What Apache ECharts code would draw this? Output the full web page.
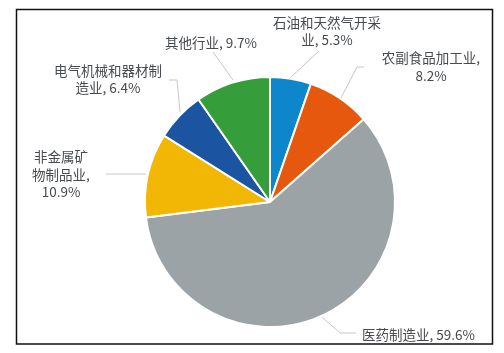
<!DOCTYPE html>
<html>
<head>
<meta charset="utf-8">
<script src="https://cdn.jsdelivr.net/npm/echarts@6/dist/echarts.min.js"></script>
<style>
  html, body { margin: 0; padding: 0; background: #fff; }
  #chart { width: 504px; height: 353px; }
</style>
</head>
<body>
<div id="chart"></div>
<script>
// 行业分类及占比（%）
const categories = ['石油和天然气开采业', '农副食品加工业', '医药制造业', '非金属矿物制品业', '电气机械和器材制造业', '其他行业']
const values = [5.3, 8.2, 59.6, 10.9, 6.4, 9.7]
// 标签换行位置（在第几个字符后换行）
const labelBreaks = [[8], [8], [], [4, 9], [8], []]
const colors = ['#0d86cb', '#e5580e', '#9ba3a7', '#f2b705', '#1b54a1', '#359e3b']

// 标签摆放位置
const labelPos = [
  { x: 327, y: 31.5, align: 'center', pts: [[290, 78], [319, 51], [319, 51]] },
  { x: 431, y: 67, align: 'center', pts: [[341, 98], [357, 67], [364, 67]] },
  { x: 362, y: 335, align: 'left', pts: [[322, 317], [340, 333], [356, 333]] },
  { x: 61, y: 174.5, align: 'center', pts: [[146, 174], [125, 174], [106, 174]] },
  { x: 108, y: 79.5, align: 'center', pts: [[180, 112], [177, 80], [169, 80]] },
  { x: 211, y: 43, align: 'center', pts: [[233, 80], [213, 52], [213, 52]] }
]

function wrapLabel (i) {
  const text = categories[i] + ', ' + values[i] + '%'
  const parts = []
  let last = 0
  labelBreaks[i].forEach(b => {
    parts.push(text.slice(last, b).trim())
    last = b
  })
  parts.push(text.slice(last).trim())
  return parts.join('\n')
}

const chart = echarts.init(document.getElementById('chart'))
const option = {
  color: colors,
  textStyle: { fontFamily: 'Noto Sans CJK SC' },
  graphic: [{
    type: 'rect',
    shape: { x: 16.5, y: 9.5, width: 476, height: 334.5 },
    style: { fill: 'none', stroke: '#111', lineWidth: 1.5 }
  }],
  series: [{
    type: 'pie',
    center: [270, 202],
    radius: 125,
    startAngle: 90,
    clockwise: true,
    data: categories.map((name, i) => ({ name: name, value: values[i] })),
    itemStyle: { borderColor: '#fff', borderWidth: 2 },
    label: {
      show: true,
      position: 'outside',
      formatter: (p) => wrapLabel(p.dataIndex),
      fontSize: 13.5,
      lineHeight: 17.5,
      overflow: 'none',
      color: '#474b4f'
    },
    labelLine: {
      show: true,
      lineStyle: { color: '#c8c8c8', width: 1 }
    },
    labelLayout: (params) => {
      const p = labelPos[params.dataIndex]
      return {
        x: p.x,
        y: p.y,
        align: p.align,
        verticalAlign: 'middle',
        labelLinePoints: p.pts
      }
    }
  }]
}
chart.setOption(option)
</script>
</body>
</html>
